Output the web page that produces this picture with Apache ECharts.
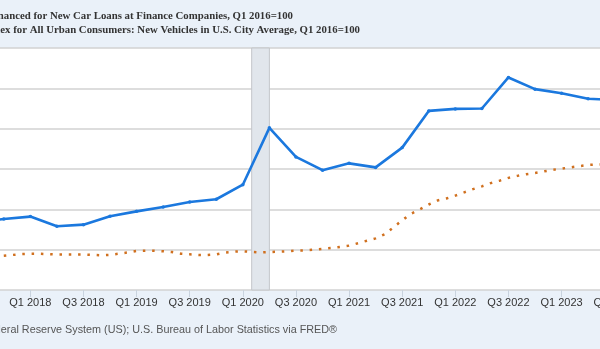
<!DOCTYPE html>
<html>
<head>
<meta charset="utf-8">
<script src="https://cdn.jsdelivr.net/npm/echarts@6/dist/echarts.min.js"></script>
<style>
html,body{margin:0;padding:0;background:#eaf1f9;overflow:hidden;width:600px;height:349px;}
#c{width:800px;height:349px;margin-left:-100px;}
</style>
</head>
<body>
<div id="c"></div>
<script>
// Quarterly series: Average Amount Financed for New Car Loans (Q1 2016=100)
const loanQuarters = ['2017Q3','2017Q4','2018Q1','2018Q2','2018Q3','2018Q4','2019Q1','2019Q2','2019Q3','2019Q4','2020Q1','2020Q2','2020Q3','2020Q4','2021Q1','2021Q2','2021Q3','2021Q4','2022Q1','2022Q2','2022Q3','2022Q4','2023Q1','2023Q2','2023Q3'];
const loanValues = [106.8,107.6,108.2,105.8,106.2,108.3,109.5,110.6,111.8,112.5,116.1,130.2,123.0,119.7,121.4,120.4,125.3,134.4,134.9,135.0,142.7,139.8,138.8,137.4,137.1];

// Monthly series: CPI New Vehicles (Q1 2016=100)
const cpiMonths = [
 '2017-10','2017-11','2017-12',
 '2018-01','2018-02','2018-03','2018-04','2018-05','2018-06','2018-07','2018-08','2018-09','2018-10','2018-11','2018-12',
 '2019-01','2019-02','2019-03','2019-04','2019-05','2019-06','2019-07','2019-08','2019-09','2019-10','2019-11','2019-12',
 '2020-01','2020-02','2020-03','2020-04','2020-05','2020-06','2020-07','2020-08','2020-09','2020-10','2020-11','2020-12',
 '2021-01','2021-02','2021-03','2021-04','2021-05','2021-06','2021-07','2021-08','2021-09','2021-10','2021-11','2021-12',
 '2022-01','2022-02','2022-03','2022-04','2022-05','2022-06','2022-07','2022-08','2022-09','2022-10','2022-11','2022-12',
 '2023-01','2023-02','2023-03','2023-04','2023-05','2023-06'];
const cpiValues = [
 98.5,98.7,98.9,
 99.0,99.0,98.9,98.8,98.8,98.8,98.8,98.7,98.6,98.7,99.0,99.3,
 99.7,99.75,99.75,99.6,99.4,99.0,98.85,98.7,98.7,98.85,99.3,99.5,
 99.6,99.45,99.3,99.4,99.5,99.6,99.75,99.8,100.0,100.2,100.4,100.7,
 101.0,101.6,102.2,102.8,103.8,105.5,107.3,108.9,110.0,111.2,112.2,112.7,
 113.4,114.2,115.0,115.7,116.5,117.1,117.8,118.3,118.7,119.0,119.4,119.8,
 120.1,120.4,120.7,121.0,121.1,121.2];

// Recession shading (months)
const recession = ['2020-02','2020-04'];

const legendTexts = [
 'Average Amount Financed for New Car Loans at Finance Companies, Q1 2016=100',
 'Consumer Price Index for All Urban Consumers: New Vehicles in U.S. City Average, Q1 2016=100'
];
const sourceText = 'Sources: Board of Governors of the Federal Reserve System (US); U.S. Bureau of Labor Statistics via FRED®';

// axis unit: quarters since Q1 2018
function qIdx(s){ const y=+s.slice(0,4), q=+s.slice(5); return (y-2018)*4+(q-1); }
function mIdx(s){ const y=+s.slice(0,4), m=+s.slice(5,7); return ((y-2018)*12+(m-1))/3; }
function qLabel(v){ const i=Math.round(v); const y=2018+Math.floor(i/4); const q=((i%4)+4)%4+1; return 'Q'+q+' '+y; }

const loanData = loanQuarters.map((q,i)=>[qIdx(q),loanValues[i]]);
const cpiData = cpiMonths.map((m,i)=>[mIdx(m),cpiValues[i]]);

const OFF = 100; // container is shifted left by this many px
const chart = echarts.init(document.getElementById('c'));
chart.setOption({
  animation:false,
  backgroundColor:'#eaf1f9',
  grid:{left:15.4,right:32.2,top:48,bottom:59,show:true,backgroundColor:'#ffffff',borderWidth:0},
  xAxis:{type:'value',min:-4,max:24,interval:2,
    axisLine:{show:false},
    axisTick:{show:true,length:7,lineStyle:{color:'#c9d3de',width:1}},
    axisLabel:{formatter:qLabel,color:'#333333',fontSize:11,fontFamily:'Liberation Sans, Arial, sans-serif',margin:7},
    splitLine:{show:false}},
  yAxis:{type:'value',min:90,max:150,interval:10,
    axisLabel:{show:false},axisLine:{show:false},axisTick:{show:false},
    splitLine:{show:true,lineStyle:{color:'#d2d2d2',width:1.5}}},
  series:[
    {type:'line',data:loanData,symbol:'circle',symbolSize:3.5,showSymbol:true,
     itemStyle:{color:'#1b78de'},lineStyle:{color:'#1b78de',width:2.6},z:3,
     markArea:{silent:true,itemStyle:{color:'#e1e6ec',borderColor:'#c3c6ca',borderWidth:1},
       data:[[{xAxis:mIdx(recession[0])},{xAxis:mIdx(recession[1])}]]}},
    {type:'line',data:cpiData,symbol:'none',
     lineStyle:{color:'#d0701f',width:2.5,type:[2.5,6.8],cap:'butt'},z:2}
  ],
  graphic:[
    {type:'text',x:293+OFF,y:16,style:{text:legendTexts[0],align:'right',verticalAlign:'middle',fill:'#333333',font:'bold 10.8px "Liberation Serif", "Times New Roman", serif'}},
    {type:'text',x:360+OFF,y:30,style:{text:legendTexts[1],align:'right',verticalAlign:'middle',fill:'#333333',font:'bold 10.8px "Liberation Serif", "Times New Roman", serif'}},
    {type:'text',x:337+OFF,y:330,style:{text:sourceText,align:'right',verticalAlign:'middle',fill:'#555555',font:'10.8px "Liberation Sans", Arial, sans-serif'}}
  ]
});
</script>
</body>
</html>
